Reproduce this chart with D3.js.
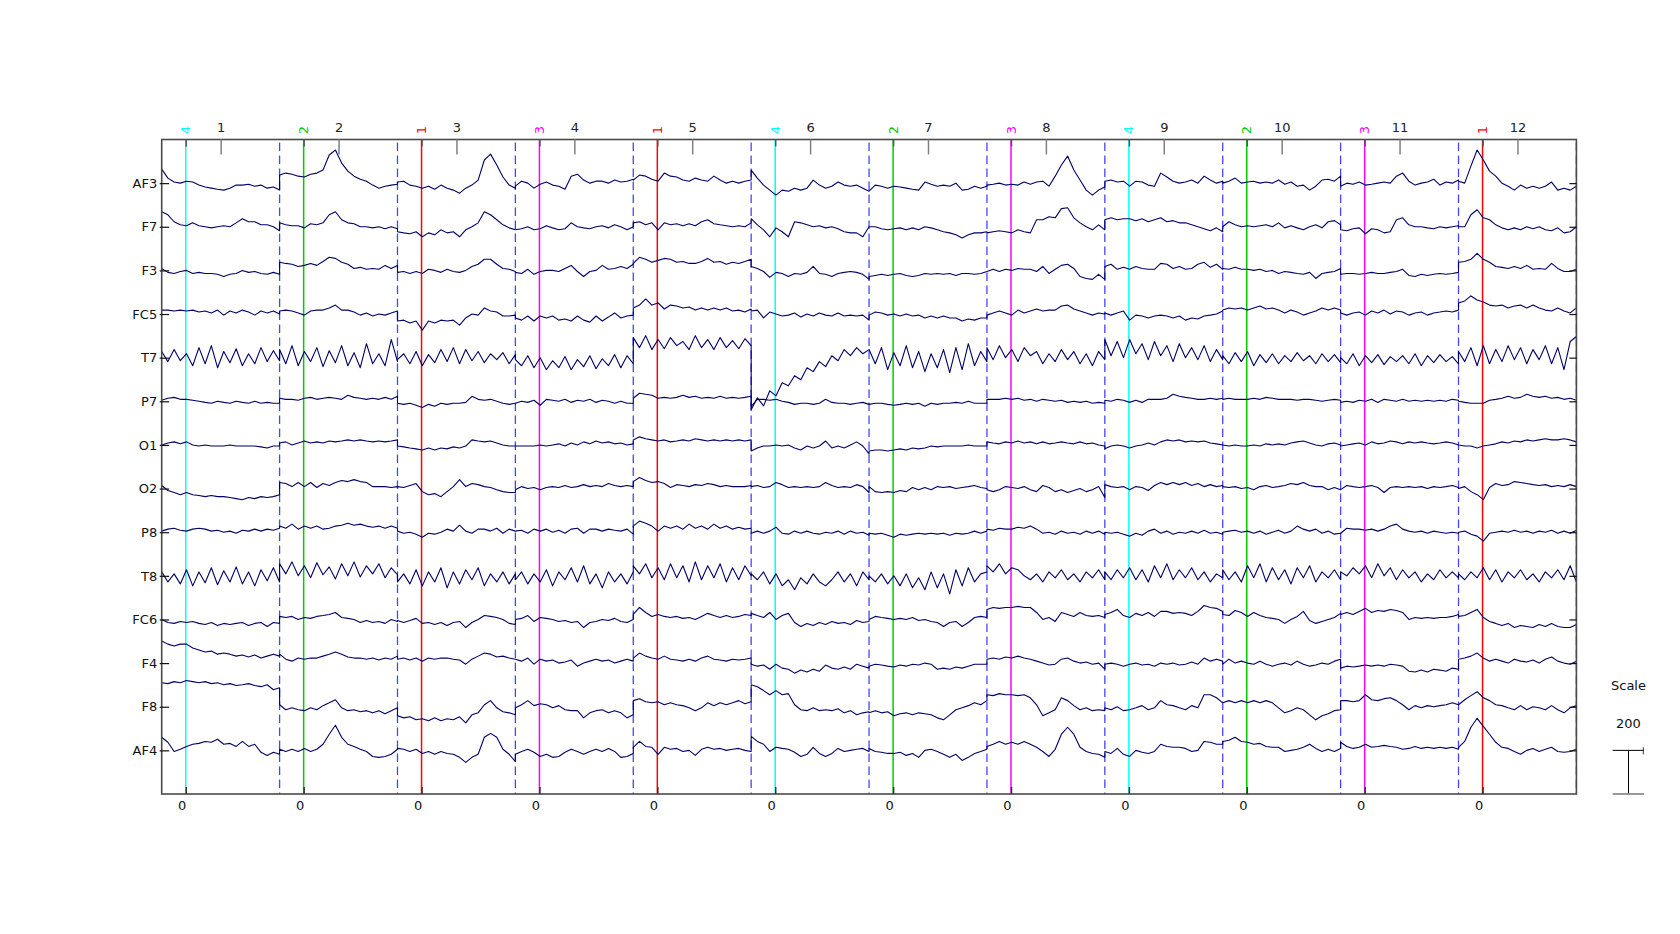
<!DOCTYPE html>
<html><head><meta charset="utf-8">
<script src="https://cdn.jsdelivr.net/npm/d3@7"></script>
<style>
body{margin:0;background:#fff}
svg{display:block}
text{font-family:"DejaVu Sans",sans-serif}
</style></head>
<body><svg id="chart" width="1680" height="934"></svg>
<script>
// ---------------- data ----------------
const channelNames = ["AF3","F7","F3","FC5","T7","P7","O1","O2","P8","T8","FC6","F4","F8","AF4"];
const epochLabels = ["1","2","3","4","5","6","7","8","9","10","11","12"];
const eventTypes = [4,2,1,3,1,4,2,3,4,2,3,1];
const epochWindow = [-200, 780];      // ms
const eventLatency = 0;               // ms
const samplesPerEpoch = 20;
const scaleValue = 200;               // µV

// µV, 20 samples per epoch, 12 epochs
const ch_AF3 = [
64,23,5,0,9,5,-9,-18,-23,-28,-32,-23,-9,-9,-5,-14,-9,-23,-18,-32,
37,46,41,32,28,41,46,60,129,152,92,55,32,18,9,-9,-23,-14,-9,-5,
5,9,-9,-14,-23,-14,-28,-9,-23,-32,-46,-23,-9,14,106,133,83,28,-9,-23,
-14,9,0,-23,-5,5,-9,-14,-28,32,41,14,0,9,9,0,14,5,9,18,
14,37,32,18,9,46,32,28,14,9,23,14,9,32,14,0,9,0,9,14,
60,23,-9,-32,-55,-32,-37,-23,-32,-23,14,-9,-23,-14,5,-9,-14,-9,-23,-37,
-37,-9,-14,-23,-14,-18,-23,-28,-32,5,-5,-14,-9,-14,0,-32,-28,-14,-23,-14,
-9,-5,0,-9,-5,-9,5,-5,5,9,-14,32,83,124,60,14,-32,-55,-32,-18,
9,14,5,9,-14,9,5,-9,-14,46,28,9,0,5,14,0,32,14,0,9,
0,9,23,0,5,9,0,5,0,14,-5,5,-14,-9,-32,-14,14,18,9,32,
-14,0,-5,5,-9,-5,0,5,0,32,46,9,-9,0,5,18,-9,5,0,14,
9,0,78,152,106,55,32,0,-14,-32,-9,-23,-14,-23,-14,5,-32,-23,-32,-14];
const ch_F7 = [
69,55,23,9,5,18,5,0,-5,0,5,0,18,37,23,23,9,9,0,-18,
18,9,5,5,-5,14,9,18,55,69,32,18,14,0,0,-5,0,-9,0,-9,
-23,-28,-32,-23,-46,-28,-37,-14,-28,-23,-46,-14,0,18,69,55,32,9,-5,-14,
-14,-9,0,-14,-9,5,-5,-14,-9,18,0,-5,-9,0,5,-5,9,0,-14,0,
18,23,9,18,-14,18,9,14,5,14,5,23,32,14,9,5,0,5,0,18,
37,9,-14,-46,-5,-23,-46,23,18,9,0,5,-5,0,-9,-23,-28,-28,-46,0,
0,0,-9,-14,-9,-5,-14,-5,-14,0,-5,-14,-23,-28,-37,-51,-37,-28,-28,-23,
-28,-23,-18,-23,-28,-14,-23,-28,32,32,46,41,83,87,41,18,0,-14,9,-14,
32,41,32,37,37,28,37,23,32,41,23,28,18,18,9,0,-9,-18,-5,-23,
0,23,9,0,5,0,5,9,0,18,-5,5,-5,-14,0,9,-5,23,28,9,
-14,-18,-9,-5,-32,-9,-14,-28,-23,32,41,9,0,0,-5,-9,0,-5,0,5,
0,0,55,78,41,32,9,-5,-14,-5,-14,0,-9,0,-14,-18,-5,-28,-23,0];
const ch_F3 = [
9,-9,-14,-5,0,-14,-9,-14,-14,-18,-28,-18,-14,0,-9,-5,-14,-18,-9,-18,
37,32,28,18,23,32,23,41,60,55,37,28,9,14,5,9,5,23,9,23,
-9,-5,-14,-5,-14,5,0,-9,5,-5,-9,0,18,28,51,51,28,9,5,-5,
-9,-14,5,-18,-5,0,0,-5,9,23,-5,-28,-5,0,23,5,9,18,9,28,
32,60,51,37,46,55,51,37,41,32,32,41,55,37,41,28,37,32,41,51,
18,9,-5,-32,-9,-14,-28,-14,-18,-9,18,-14,-18,-28,-14,-9,-5,-9,-18,-41,
-28,-23,-18,-23,-18,-14,-23,-28,-23,-14,-18,-14,-18,-14,-23,-14,-14,-18,-14,-5,
-5,5,-5,5,0,9,5,5,-5,18,-14,5,23,28,9,-28,-37,-41,-18,-41,
18,28,5,14,5,18,9,5,5,32,28,9,18,5,9,28,37,14,28,5,
9,5,14,5,5,0,5,-5,0,-14,-5,-9,-14,-18,-9,-37,-14,-9,-5,9,
-18,-14,-14,-18,-14,-9,-14,-14,-9,-5,5,-23,-28,-18,-23,-18,-14,-18,-14,-9,
37,41,51,78,51,37,18,14,9,18,9,23,5,9,5,32,9,-5,-5,5];
const ch_FC5 = [
18,18,14,18,14,18,9,14,5,18,-5,14,5,18,9,-5,14,5,14,0,
14,18,14,5,-5,14,18,18,28,41,18,18,9,-5,5,-9,0,-5,5,14,
-32,-28,-41,-32,-74,-32,-41,-28,-32,-28,-51,-18,0,-5,28,14,9,-9,-9,-5,
-18,-28,-9,-32,-9,-18,-9,-28,-23,-32,-9,-28,-37,-9,-32,-14,5,-18,-9,-5,
28,41,69,41,51,23,41,37,28,32,18,28,18,28,18,28,14,18,9,23,
14,18,-18,9,0,-9,-5,5,-14,0,-9,5,-5,-9,5,-9,-5,-9,-5,-28,
-5,9,5,-5,0,-9,0,-9,-5,-18,-9,-18,-9,-18,-18,-32,-23,-28,-18,-18,
-5,5,14,5,-5,18,5,14,23,14,18,18,37,41,23,14,5,-5,5,0,
5,-5,5,14,-28,-5,-9,-18,-9,-5,-9,-18,-9,-28,-18,-23,-9,-5,0,14,
18,28,23,28,18,28,37,23,28,18,5,18,9,-5,5,14,28,18,28,18,
5,-5,5,9,-5,14,5,18,0,14,9,-5,5,9,-5,5,9,14,9,18,
51,60,83,64,55,41,37,41,28,37,41,28,41,28,18,14,28,14,5,28];
const ch_T7 = [
28,-18,37,-14,18,-37,46,-28,55,-46,28,-23,41,-37,18,-28,46,-18,32,-14,
37,-28,55,-37,28,-18,46,-41,32,-23,55,-37,23,-46,64,-28,18,-37,83,-18,
-9,18,-28,28,-37,14,-23,37,-18,46,-28,37,-14,28,-23,18,-9,23,-28,14,
-9,-37,9,-46,0,-55,-14,-46,5,-55,-9,-41,9,-51,-5,-37,14,-46,9,-28,
92,46,101,37,83,41,92,55,74,37,101,46,83,37,92,46,78,41,87,55,
-239,-184,-221,-152,-175,-115,-129,-83,-101,-46,-64,-18,-41,9,-14,37,9,46,18,37,
37,-28,46,-55,23,-37,55,-46,28,-64,18,-46,37,-69,46,-55,64,-37,28,-18,
46,-9,55,0,37,-18,46,9,28,-28,18,-18,37,-9,28,-28,18,-37,28,-9,
83,9,74,0,83,18,64,-9,74,9,55,-18,64,0,46,-9,55,-18,37,-9,
9,-28,23,-18,28,-37,14,-23,18,-28,9,-18,23,-14,9,-28,18,-18,14,-23,
0,-28,18,-37,9,-23,14,-32,5,-18,9,-28,18,-37,9,-23,14,-18,5,-28,
28,-18,46,-37,55,-28,37,-18,55,-9,46,-28,37,-9,55,-28,46,-55,74,97];
const ch_P7 = [
5,14,18,9,9,5,0,-5,-9,0,-5,-9,0,-5,-9,0,-9,-5,-9,-9,
14,9,9,5,14,18,9,14,18,14,9,28,18,14,9,14,9,18,9,23,
-9,-14,-9,-18,-28,-14,-23,-9,-14,-9,-9,-5,23,9,5,9,0,-9,-14,-9,
-9,0,-5,5,-18,9,5,0,9,-5,5,0,9,-5,5,0,-9,0,-9,-9,
14,37,32,28,14,18,14,18,28,18,23,14,18,14,23,14,18,14,18,23,
-23,9,9,5,9,0,-5,-14,-9,-9,-14,-9,9,-5,-9,-9,-14,-9,-5,-14,
-14,-9,-9,-14,-18,-14,-9,-14,-9,-23,-9,-14,-9,-9,-5,-9,0,-9,-9,-9,
9,9,9,14,9,14,5,9,0,9,5,0,5,-5,0,-5,0,-9,-5,-9,
5,0,9,5,-5,5,-5,9,9,9,14,32,23,18,14,9,9,14,9,14,
9,14,9,9,9,14,9,18,14,9,9,9,5,9,9,5,0,5,9,5,
-5,0,-5,5,0,9,-5,9,5,0,9,0,5,0,5,0,5,0,9,5,
0,-5,-9,-9,-9,5,9,14,23,14,18,32,23,18,23,14,18,9,14,5];
const ch_O1 = [
0,9,14,5,14,0,-5,0,-5,-5,-5,0,-5,-5,-5,-5,-9,-14,-5,-5,
9,14,0,9,18,9,14,9,18,14,18,23,18,23,18,14,18,14,18,23,
-5,-9,-14,-18,-23,-14,-23,-14,-18,-9,-14,-5,23,18,14,18,9,0,-5,-5,
-5,-5,-5,-5,0,-5,0,5,-5,9,0,14,5,18,9,14,5,9,0,5,
23,37,28,23,18,23,14,18,23,18,28,23,18,23,18,23,18,23,18,23,
-28,-14,-5,-5,0,-5,0,-14,-23,-5,-14,-5,18,-14,-5,-14,0,14,-5,-41,
-28,-23,-23,-28,-23,-18,-23,-14,-18,-14,-5,-9,-5,-5,-5,-5,0,-5,-5,-5,
14,9,5,14,9,18,9,14,5,14,5,9,14,9,5,14,5,9,0,-5,
-18,-5,0,-5,-14,-5,0,9,0,14,23,18,23,14,18,14,18,9,5,0,
0,-5,0,-5,-5,0,-5,5,0,5,0,9,14,18,9,0,-5,5,9,0,
-5,0,5,9,0,14,5,9,18,14,5,14,9,14,9,5,9,14,9,0,
0,-5,-5,-14,-5,0,5,14,9,18,14,23,18,23,28,23,23,28,23,14];
const ch_O2 = [
14,-9,-18,-28,-18,-28,-32,-37,-32,-37,-37,-41,-46,-51,-41,-46,-37,-41,-37,-28,
28,23,9,28,9,28,5,23,14,28,37,32,41,32,28,9,9,9,5,9,
9,5,14,23,-14,-28,-23,-37,-14,9,41,9,23,18,9,5,-5,-14,-18,-18,
-5,9,0,5,-5,5,9,5,14,5,9,18,9,14,9,23,14,9,14,9,
32,51,37,28,32,23,5,18,14,9,18,14,23,18,9,14,9,9,9,14,
9,14,5,9,28,18,5,9,5,9,5,9,28,14,5,9,5,18,9,-18,
9,-14,-18,-14,-18,-9,-14,5,-5,5,-5,9,5,9,0,5,9,14,5,0,
-5,-14,-5,9,5,0,9,-5,-14,14,5,-14,-5,-18,-9,0,-14,-5,9,-41,
18,9,5,9,-5,9,5,-9,14,28,18,28,18,28,14,23,9,18,9,14,
9,5,9,0,5,-5,9,14,5,9,14,23,18,28,14,9,9,-5,5,-5,
-5,14,9,5,9,14,5,-18,5,9,5,9,5,9,0,9,5,9,14,5,
0,9,-14,-28,-51,5,23,14,18,32,28,23,18,14,18,9,14,9,18,9];
const ch_P8 = [
5,14,18,9,5,14,18,14,5,9,0,5,-5,9,5,14,5,14,9,18,
28,18,37,14,28,18,28,14,18,28,32,41,32,37,28,23,28,18,28,18,
5,-5,0,-9,-23,-5,-9,0,14,5,32,5,-5,14,14,5,18,-5,14,5,
5,9,-5,14,5,14,0,9,-5,14,18,-5,14,14,5,14,9,5,14,-9,
28,51,41,28,5,28,18,28,14,37,18,28,14,37,18,28,14,23,14,18,
-5,5,-5,5,23,-5,-9,5,-5,5,-5,-9,0,-5,5,-9,5,-5,0,-14,
-5,-9,-5,-14,-23,-9,-14,-9,-5,-9,-5,-9,-5,-14,-5,-9,-5,5,-5,5,
14,9,18,14,14,23,18,28,14,-5,0,-9,5,-5,0,-9,5,-5,5,-9,
0,-5,0,-9,-18,-5,-14,5,14,-5,5,-9,0,-5,5,-5,9,-5,0,-9,
0,5,9,0,5,-5,5,-9,0,9,-5,5,28,14,5,14,-5,5,-9,-5,
-5,18,14,14,9,14,5,14,28,37,14,5,0,5,-5,5,0,-5,0,-5,
0,5,-9,-18,-41,-5,0,5,0,9,0,5,-5,5,0,9,-5,5,-5,9];
const ch_T8 = [
18,-28,9,-37,28,-46,18,-32,37,-41,23,-28,41,-37,18,-46,28,-23,37,-28,
55,9,64,0,46,-9,60,5,41,-14,55,0,64,-5,46,9,55,-9,37,5,
-28,9,-37,28,-46,18,-28,37,-55,18,-37,28,-18,37,-46,9,-28,18,-37,9,
-18,18,-37,9,-28,28,-46,18,-18,37,-28,46,-37,9,-55,18,-28,9,-37,18,
46,9,55,-9,37,-18,55,-9,46,-28,64,-18,46,-9,55,-28,37,-18,46,0,
9,-18,18,-37,9,-46,-18,-64,-9,-37,9,-28,-46,-18,18,-28,9,-46,18,-18,
0,-28,9,-37,0,-46,9,-55,-9,-64,18,-55,9,-83,28,-46,37,-28,9,18,
46,18,55,9,37,28,0,-18,9,-28,18,-9,28,-18,9,-28,18,-9,28,-18,
18,-18,28,-9,37,-18,28,-28,46,-9,55,-18,28,-9,37,-18,18,-28,9,-9,
28,-18,18,-28,46,-9,55,-28,37,-18,28,-37,37,-9,46,-28,18,-9,28,-18,
18,0,37,9,46,-9,55,0,37,-18,28,-9,18,-28,9,-18,28,-9,18,-9,
9,-18,18,-9,37,-18,28,-28,18,-9,28,-18,9,-28,18,-9,28,-18,46,-28];
const ch_FC6 = [
0,-14,-18,-9,-14,-9,-18,-23,-14,-28,-18,-23,-18,-14,-28,-18,-14,-32,-14,-18,
14,9,14,0,9,5,14,18,23,32,9,5,0,-14,-5,-14,-9,-18,0,-9,
-5,-14,-5,5,-18,-14,-23,-14,-28,-14,-9,-37,-14,0,18,14,9,0,-18,-23,
0,5,18,-9,9,5,0,-9,-5,-14,-9,-37,-14,-9,0,-5,5,-9,-14,0,
23,55,32,14,23,14,9,14,5,9,0,14,28,18,9,18,9,14,23,18,
28,18,9,32,0,18,28,-14,-32,-18,-28,-14,-23,-9,-18,-14,-23,-5,-14,-9,
0,14,9,5,0,5,0,9,-5,0,-9,-14,-32,-14,-9,-32,-14,9,14,9,
46,55,51,55,55,60,55,55,32,0,9,-9,32,23,14,32,18,14,18,9,
23,32,46,18,9,28,18,32,14,37,37,28,32,28,18,37,64,55,51,37,
23,18,41,32,14,32,18,9,5,0,-18,0,14,37,-5,-18,-9,0,9,28,
23,32,23,37,51,32,41,37,46,41,32,0,9,5,9,5,9,9,14,23,
14,18,32,46,9,-9,-18,-28,-18,-37,-28,-32,-37,-23,-32,-18,-32,-37,-37,-23];
const ch_F4 = [
101,87,78,87,87,69,60,51,55,41,46,41,32,37,28,37,23,32,41,32,
41,18,9,23,18,23,23,32,41,51,41,28,23,23,18,23,14,23,18,32,
18,23,14,23,9,23,18,23,23,18,14,-5,18,32,46,41,28,32,23,18,
18,9,23,-5,18,9,14,0,5,14,-14,0,9,18,9,14,0,9,18,9,
23,46,32,23,18,32,18,14,9,18,9,23,32,18,14,9,18,14,18,23,
-5,-14,-9,-28,-5,-23,-28,-46,-32,-41,-28,-37,-9,-23,-28,-18,-28,-5,-14,-23,
-14,-5,-9,-14,-18,-9,-14,-5,-9,0,-5,-28,-23,-28,-18,-23,-14,-5,-5,-5,
18,23,18,28,23,32,23,18,9,0,-9,-5,18,23,9,0,5,-5,0,-28,
-5,0,-5,-14,-5,0,-9,-5,-14,0,-5,0,-9,-5,5,-5,23,9,18,9,
-5,18,0,9,0,-5,9,-5,-14,-5,0,-9,9,-5,-14,-9,0,-5,9,18,
-23,-14,-18,-14,-9,-14,-9,-14,-5,-9,-14,-37,-41,-32,-41,-28,-32,-37,-23,-28,
18,23,32,46,23,9,18,9,0,18,9,5,14,0,18,28,9,0,-5,9];
const ch_F8 = [
110,106,115,110,120,115,110,115,106,110,101,106,97,101,106,97,92,101,78,87,
9,-14,-5,-14,-18,-5,-14,5,18,32,-5,-18,-14,-23,-18,-28,-18,-32,-18,-5,
-41,-51,-46,-60,-55,-64,-51,-64,-55,-60,-46,-74,-37,-28,9,28,-5,-23,-28,-37,
-5,9,28,5,14,9,-5,5,-14,-18,-18,-51,-28,-18,-14,-28,-18,-28,-51,-37,
28,37,23,18,23,9,18,9,5,-5,-18,-5,18,5,18,9,18,28,14,23,
101,92,74,55,74,55,60,9,-14,-18,-5,-18,-14,-18,-9,-28,-18,-37,-28,-23,
-28,-18,-28,-23,-41,-32,-28,-37,-28,-32,-37,-51,-60,-37,-14,-5,5,18,9,28,
55,51,60,55,55,51,55,41,9,-41,-28,-14,41,28,5,-14,-5,-18,-14,-18,
-5,-14,0,-18,-14,-5,5,-14,-5,28,9,5,-5,-14,5,-5,55,55,41,18,
18,28,18,28,18,28,18,28,18,-5,-28,-18,-5,-14,-37,-60,-41,-32,-18,-14,
28,28,23,28,55,32,28,37,41,28,9,-14,5,-5,5,0,5,9,18,9,
9,32,51,69,41,28,9,5,-5,-14,5,-14,0,-5,-14,5,-14,-28,-5,5];
const ch_AF4 = [
60,37,-5,5,18,28,32,41,37,51,28,32,18,41,18,28,-9,-23,-9,-18,
5,-5,5,-5,9,-5,5,28,74,115,60,28,18,5,-5,-28,-32,-28,-18,5,
9,5,-5,5,-14,-5,-18,-5,-14,-18,-32,-55,-32,-18,60,78,60,5,-18,-51,
-18,-5,5,-9,-28,-18,-32,-28,-9,5,-5,-18,-5,5,-5,9,-5,-32,-28,-14,
14,41,18,14,-18,14,5,9,-5,0,-23,5,14,5,9,0,5,9,0,-5,
64,41,28,-5,14,9,5,-9,-28,-18,14,-14,-28,-14,9,-5,0,5,9,-5,
9,-5,-9,-14,-14,-9,-23,-14,-32,0,5,-5,-18,-32,-18,-46,-32,-14,-5,5,
18,28,41,28,37,28,41,28,14,-5,-28,5,74,106,74,14,-5,-14,-18,-32,
-5,-14,9,-18,-28,0,-9,-14,-5,28,18,14,14,9,-5,0,41,37,28,28,
41,46,60,41,37,28,32,18,14,14,-5,0,5,14,28,9,-5,5,-5,9,
37,18,9,14,28,14,18,23,18,14,5,9,18,9,14,9,14,9,14,5,
14,41,106,147,110,74,37,14,9,-5,-18,0,9,-5,5,14,-5,-9,-5,5];

const channelData = [ch_AF3,ch_F7,ch_F3,ch_FC5,ch_T7,ch_P7,ch_O1,ch_O2,ch_P8,ch_T8,ch_FC6,ch_F4,ch_F8,ch_AF4];

// ---------------- layout ----------------
const W = 1680, H = 934;
const plot = {left: 161.7, right: 1576.4, top: 139.5, bottom: 794};
const eventColor = {1:"#ff0000", 2:"#00cc00", 3:"#ff00ff", 4:"#00ffff"};
const FS = 13;
const svg = d3.select("#chart");
svg.append("rect").attr("width", W).attr("height", H).attr("fill", "#fff");

const nEp = epochLabels.length;
const x = d3.scaleLinear().domain([0, nEp]).range([plot.left, plot.right]);
const tFrac = d3.scaleLinear().domain(epochWindow).range([0, 1]);
const sampleTimes = d3.range(samplesPerEpoch).map(i => epochWindow[0] + i * (epochWindow[1] - epochWindow[0]) / (samplesPerEpoch - 1));
const yRow = d3.scaleLinear().domain([-1, channelNames.length]).range([plot.top, plot.bottom]);
const spacing = yRow(1) - yRow(0);
const amp = d3.scaleLinear().domain([0, scaleValue]).range([0, spacing]);

const evPos = eventTypes.map((t, e) => e + tFrac(eventLatency));

// epoch boundaries (dashed)
svg.append("g").selectAll("line").data(d3.range(1, nEp + 1)).join("line")
  .attr("x1", d => x(d)).attr("x2", d => x(d))
  .attr("y1", plot.top).attr("y2", plot.bottom)
  .attr("stroke", "#4646ff").attr("stroke-width", 1.3)
  .attr("stroke-dasharray", "8.5,4.5").attr("stroke-dashoffset", -3);

// event lines
svg.append("g").selectAll("line").data(eventTypes).join("line")
  .attr("x1", (d, e) => x(evPos[e])).attr("x2", (d, e) => x(evPos[e]))
  .attr("y1", plot.top).attr("y2", plot.bottom)
  .attr("stroke", d => eventColor[d]).attr("stroke-width", 1.5);

// event labels (rotated)
svg.append("g").selectAll("text").data(eventTypes).join("text")
  .attr("transform", (d, e) => `translate(${x(evPos[e])},134.3) rotate(-90)`)
  .attr("text-anchor", "start").attr("dominant-baseline", "central")
  .attr("font-size", FS).attr("fill", d => eventColor[d])
  .text(d => d);

// traces
const line = d3.line()
  .x((d, i) => x(Math.floor(i / samplesPerEpoch) + tFrac(sampleTimes[i % samplesPerEpoch])))
  .y(d => d);
svg.append("g").selectAll("path").data(channelData).join("path")
  .attr("d", (arr, k) => line(arr.map(v => yRow(k) - amp(v))))
  .attr("fill", "none").attr("stroke", "#000066").attr("stroke-width", 1.1)
  .attr("stroke-linejoin", "round");

// frame
svg.append("rect")
  .attr("x", plot.left).attr("y", plot.top)
  .attr("width", plot.right - plot.left).attr("height", plot.bottom - plot.top)
  .attr("fill", "none").attr("stroke", "#4a4a4a").attr("stroke-width", 1.6);

// left axis: channel names
const yAxisScale = d3.scalePoint().domain(channelNames)
  .range([yRow(0), yRow(channelNames.length - 1)]);
const gL = svg.append("g").attr("transform", `translate(${plot.left},0)`)
  .call(d3.axisLeft(yAxisScale).tickSize(-7.5).tickSizeOuter(0).tickPadding(4.5));
gL.select(".domain").remove();
gL.selectAll(".tick line").attr("stroke", "#111").attr("stroke-width", 1.2);
gL.selectAll(".tick text").attr("font-size", FS).attr("fill", "#111")
  .attr("font-family", '"DejaVu Sans",sans-serif');
gL.selectAll(".tick").append("line").attr("x1", -2).attr("x2", 0)
  .attr("stroke", "#111").attr("stroke-width", 1.2);

// right axis: channel ticks
const gR = svg.append("g").attr("transform", `translate(${plot.right},0)`)
  .call(d3.axisRight(yAxisScale).tickSize(-7).tickSizeOuter(0).tickFormat(""));
gR.select(".domain").remove();
gR.selectAll(".tick line").attr("stroke", "#111").attr("stroke-width", 1.2);

// top axis: epoch numbers
const gT = svg.append("g").attr("transform", `translate(0,${plot.top})`)
  .call(d3.axisTop(x).tickValues(d3.range(nEp).map(e => e + 0.5))
    .tickFormat((d, i) => epochLabels[i]).tickSize(-15).tickSizeOuter(0).tickPadding(8));
gT.select(".domain").remove();
gT.selectAll(".tick line").attr("stroke", "#808080").attr("stroke-width", 1.5);
gT.selectAll(".tick text").attr("font-size", FS).attr("fill", "#222")
  .attr("font-family", '"DejaVu Sans",sans-serif');

// top small ticks at events
const gT2 = svg.append("g").attr("transform", `translate(0,${plot.top})`)
  .call(d3.axisTop(x).tickValues(evPos).tickFormat("").tickSize(-7).tickSizeOuter(0));
gT2.select(".domain").remove();
gT2.selectAll(".tick line").attr("stroke", "#555").attr("stroke-width", 1.5);

// bottom axis: latency 0 at each event
const gB = svg.append("g").attr("transform", `translate(0,${plot.bottom})`)
  .call(d3.axisBottom(x).tickValues(evPos).tickFormat(() => String(eventLatency))
    .tickSize(-7).tickSizeOuter(0).tickPadding(7));
gB.select(".domain").remove();
gB.selectAll(".tick line").attr("stroke", "#333").attr("stroke-width", 1.5);
gB.selectAll(".tick text").attr("font-size", FS).attr("fill", "#111").attr("dx", -4)
  .attr("font-family", '"DejaVu Sans",sans-serif');

// scale legend
const sx = 1628.5;
const sBottom = plot.bottom, sTop = plot.bottom - amp(scaleValue);
svg.append("text").attr("x", sx).attr("y", 685.7).attr("text-anchor", "middle")
  .attr("dominant-baseline", "central").attr("font-size", FS).attr("fill", "#111").text("Scale");
svg.append("text").attr("x", sx).attr("y", 723).attr("text-anchor", "middle")
  .attr("dominant-baseline", "central").attr("font-size", FS).attr("fill", "#111").text(String(scaleValue));
svg.append("line").attr("x1", 1612.7).attr("x2", 1644).attr("y1", sTop).attr("y2", sTop)
  .attr("stroke", "#000").attr("stroke-width", 1);
svg.append("line").attr("x1", sx).attr("x2", sx).attr("y1", sTop).attr("y2", sBottom)
  .attr("stroke", "#000").attr("stroke-width", 1);
svg.append("line").attr("x1", 1612.7).attr("x2", 1644).attr("y1", sBottom).attr("y2", sBottom)
  .attr("stroke", "#808080").attr("stroke-width", 1.6);
svg.append("line").attr("x1", 1643.3).attr("x2", 1643.3).attr("y1", sTop - 3).attr("y2", sTop + 4)
  .attr("stroke", "#333").attr("stroke-width", 1);
</script></body></html>
